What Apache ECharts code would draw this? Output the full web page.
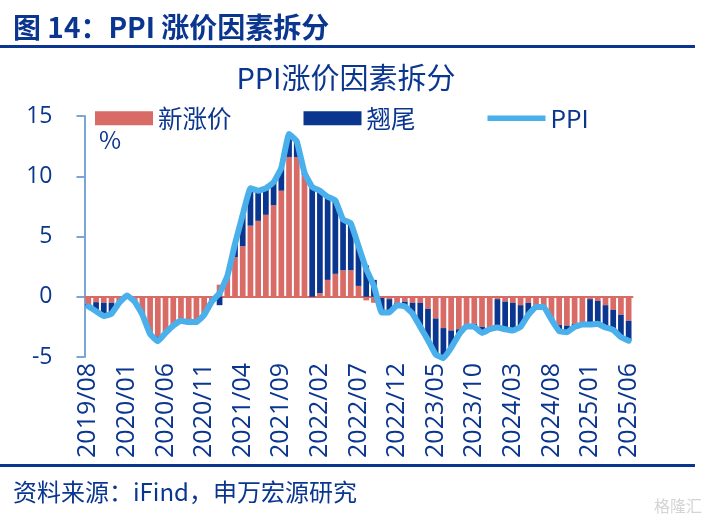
<!DOCTYPE html>
<html>
<head>
<meta charset="utf-8">
<style>
html,body{margin:0;padding:0;background:#fff;}
#chart{width:704px;height:522px;}
</style>
<script src="https://cdn.jsdelivr.net/npm/echarts@6/dist/echarts.min.js"></script>
</head>
<body>
<div id="chart"></div>
<script>
const months = [
  '2019/08','2019/09','2019/10','2019/11','2019/12',
  '2020/01','2020/02','2020/03','2020/04','2020/05','2020/06','2020/07','2020/08','2020/09','2020/10','2020/11','2020/12',
  '2021/01','2021/02','2021/03','2021/04','2021/05','2021/06','2021/07','2021/08','2021/09','2021/10','2021/11','2021/12',
  '2022/01','2022/02','2022/03','2022/04','2022/05','2022/06','2022/07','2022/08','2022/09','2022/10','2022/11','2022/12',
  '2023/01','2023/02','2023/03','2023/04','2023/05','2023/06','2023/07','2023/08','2023/09','2023/10','2023/11','2023/12',
  '2024/01','2024/02','2024/03','2024/04','2024/05','2024/06','2024/07','2024/08','2024/09','2024/10','2024/11','2024/12',
  '2025/01','2025/02','2025/03','2025/04','2025/05','2025/06'
];
const newRise = [
  -0.6,-0.45,-0.5,-0.5,-0.6,
  0.1,-0.4,-1.5,-3.1,-3.3,-3.0,-2.4,-2.0,-2.1,-2.1,-1.5,-0.4,
  1.0,1.7,3.3,4.2,5.9,6.3,6.8,7.6,8.8,11.6,11.6,10.1,
  -0.1,0.3,1.4,1.9,2.2,2.2,0.9,-0.3,-0.5,-0.1,-0.2,-0.5,
  -0.4,-0.5,-0.5,-1.0,-1.8,-2.6,-2.8,-2.7,-2.3,-2.25,-2.5,-2.6,
  -0.2,-0.4,-0.5,-0.7,-0.5,-0.8,-0.75,-1.8,-2.35,-2.4,-2.25,-2.3,
  -0.2,-0.35,-0.7,-1.1,-1.5,-2.0
];
const tail = [
  -0.2,-0.75,-1.1,-0.9,0,
  0,0,0,0,-0.4,0,0,0,0,0,0,0,
  -0.7,0,1.1,2.6,3.1,2.5,2.2,1.9,1.9,1.9,1.3,0.2,
  9.2,8.5,6.9,6.1,4.2,3.9,3.3,2.6,1.4,-1.2,-1.1,-0.2,
  -0.4,-0.9,-2.0,-2.6,-3.0,-2.5,-1.5,-0.5,-0.1,-0.25,-0.5,-0.1,
  -2.35,-2.3,-2.3,-1.8,-1.0,0,-0.1,-0.1,-0.5,-0.55,-0.25,0,
  -2.1,-1.9,-1.85,-1.65,-1.85,-1.65
];
const ppi = [
  -0.8,-1.2,-1.6,-1.4,-0.5,
  0.1,-0.4,-1.5,-3.1,-3.7,-3.0,-2.4,-2.0,-2.1,-2.1,-1.5,-0.4,
  0.3,1.7,4.4,6.8,9.0,8.8,9.0,9.5,10.7,13.5,12.9,10.3,
  9.1,8.8,8.3,8.0,6.4,6.1,4.2,2.3,0.9,-1.3,-1.3,-0.7,
  -0.8,-1.4,-2.5,-3.6,-4.8,-5.1,-4.25,-3.15,-2.45,-2.5,-3.0,-2.7,
  -2.55,-2.7,-2.8,-2.5,-1.5,-0.85,-0.85,-1.9,-2.85,-2.95,-2.5,-2.3,
  -2.3,-2.25,-2.55,-2.75,-3.35,-3.65
];

const NAVY = '#0b3690', RED = '#d96b66', SKY = '#4ab0ec';
const FONT = '"Noto Sans CJK SC","Open Sans",sans-serif';
// 图例里的线：上下各放一个零面积点撑开包围盒，中间才是真正的粗线
const LINE_ICON = 'path://M0,0L0.01,0L0,0.01Z M0,14L0.01,14L0,13.99Z M0,4.3L58,4.3L58,9.7L0,9.7Z';

const chart = echarts.init(document.getElementById('chart'));
chart.setOption({
  animation: false,
  textStyle: {fontFamily: FONT, color: NAVY},
  title: [
    {text: '图 14：PPI 涨价因素拆分', left: 13, top: 13, padding: 0,
      textStyle: {fontFamily: FONT, fontSize: 28, fontWeight: 'bold', color: NAVY}},
    {text: 'PPI涨价因素拆分', left: 346, textAlign: 'center', top: 63, padding: 0,
      textStyle: {fontFamily: FONT, fontSize: 29, fontWeight: 'normal', color: NAVY}},
    {text: '资料来源：iFind，申万宏源研究', left: 13, top: 480, padding: 0,
      textStyle: {fontFamily: FONT, fontSize: 24, fontWeight: 'normal', color: NAVY}}
  ],
  graphic: [
    {type: 'rect', shape: {x: 0, y: 45, width: 695, height: 3}, style: {fill: NAVY}},
    {type: 'rect', shape: {x: 0, y: 464, width: 695, height: 3}, style: {fill: NAVY}},
    {type: 'text', x: 99, y: 128, style: {text: '%', fill: NAVY, font: '24px ' + FONT}},
    {type: 'text', x: 654, y: 498, style: {text: '格隆汇', fill: '#d4d4d4', font: '16px ' + FONT}}
  ],
  legend: {
    left: 95, top: 106, padding: 0, itemWidth: 58, itemHeight: 14, itemGap: 72,
    textStyle: {fontFamily: FONT, fontSize: 24.5, color: NAVY},
    data: [
      {name: '新涨价', icon: 'rect'},
      {name: '翘尾', icon: 'rect'},
      {name: 'PPI', icon: LINE_ICON}
    ]
  },
  grid: {left: 84.5, right: 71.5, top: 116, bottom: 165},
  xAxis: {
    type: 'category', data: months,
    axisLine: {onZero: true, lineStyle: {color: RED, width: 2}},
    axisTick: {interval: 4, length: 7, lineStyle: {color: RED, width: 3}},
    axisLabel: {interval: 4, rotate: 90, margin: 6, fontSize: 25, fontFamily: '"Open Sans",sans-serif', color: NAVY}
  },
  yAxis: {
    type: 'value', min: -5, max: 15, interval: 5,
    splitLine: {show: false},
    axisLine: {show: true, lineStyle: {color: '#7aa5d8', width: 2}},
    axisTick: {show: true, length: 8, lineStyle: {color: '#7aa5d8', width: 2}},
    axisLabel: {margin: 32, fontSize: 23, fontFamily: '"Open Sans",sans-serif', color: NAVY}
  },
  series: [
    {name: '新涨价', type: 'bar', stack: 'ppi', data: newRise, barWidth: '74%', itemStyle: {color: RED}},
    {name: '翘尾', type: 'bar', stack: 'ppi', data: tail, barWidth: '74%', itemStyle: {color: NAVY}},
    {name: 'PPI', type: 'line', data: ppi, showSymbol: false, symbol: 'none', smooth: 0.1, clip: false, z: 5,
      lineStyle: {color: SKY, width: 6, join: 'round', cap: 'round'}, itemStyle: {color: SKY}}
  ]
});
</script>
</body>
</html>
